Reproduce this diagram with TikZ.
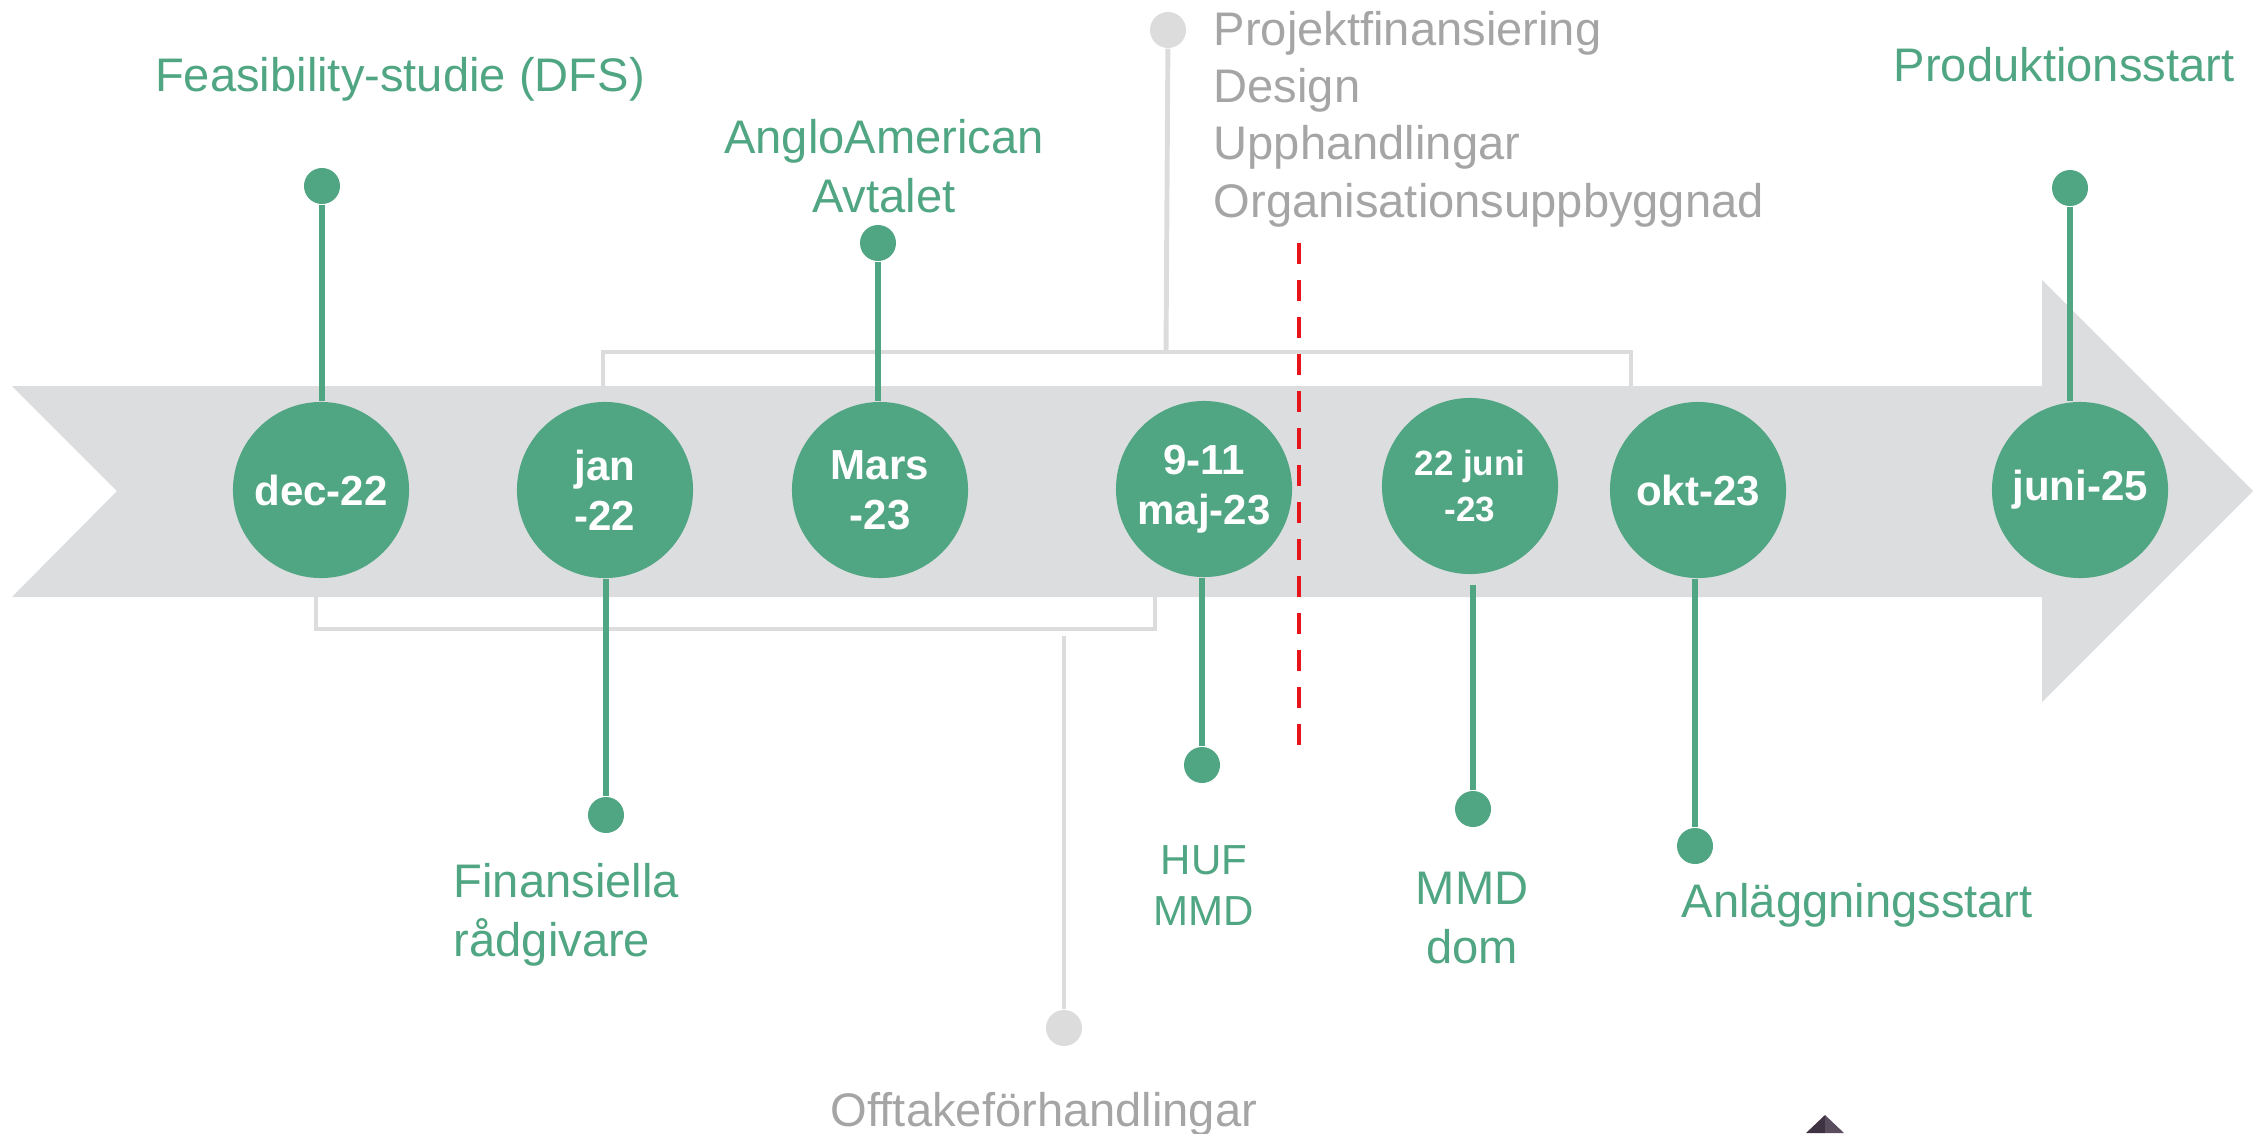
\documentclass[tikz,border=0pt]{standalone}
\usepackage{fontspec}
\setmainfont{Liberation Sans}
\definecolor{mgreen}{HTML}{50A683}
\definecolor{band}{HTML}{DCDDDF}
\definecolor{lgray}{HTML}{DCDCDC}
\definecolor{tgray}{HTML}{A5A5A5}
\definecolor{dred}{HTML}{E8141C}
\tikzset{
  date/.style={circle, fill=mgreen, minimum size=1.76cm, inner sep=0pt, text=white,
    font=\bfseries\fontsize{11.95}{14.2}\selectfont, align=center},
  pin/.style={circle, fill=mgreen, minimum size=0.36cm, inner sep=0pt},
  gpin/.style={circle, fill=lgray, minimum size=0.36cm, inner sep=0pt},
  stem/.style={draw=mgreen, line width=1.7pt},
  brace/.style={draw=lgray, line width=1.4pt},
  lbl/.style={text=mgreen, font=\fontsize{13.4}{16.5}\selectfont, inner sep=0pt, align=center},
  glbl/.style={text=tgray, font=\fontsize{13.4}{16.3}\selectfont, inner sep=0pt, align=left}
}
\begin{document}
\begin{tikzpicture}[x=0.01cm, y=-0.01cm]
      \useasboundingbox (0,0) rectangle (2267,1133);
      % arrow band
      \fill[band] (12,386) -- (2042,386) -- (2042,280) -- (2253,491) -- (2042,702)
        -- (2042,597) -- (12,597) -- (117,491) -- cycle;
      % gray brackets
      \draw[brace] (603,386) -- (603,352) -- (1631,352) -- (1631,386);
      \draw[brace] (316,597) -- (316,629) -- (1155,629) -- (1155,597);
      \node[gpin] (g1) at (1168,30) {};
      \node[gpin] (g2) at (1064,1028) {};
      \coordinate (gt) at (1166,352);
      \coordinate (gb) at (1064,636);
      \draw[brace] (gt) -- (g1);
      \draw[brace] (gb) -- (g2);
      % red line
      \draw[dred, line width=1.4pt, dash pattern=on 0.21cm off 0.16cm] (1299,243) -- (1299,745);
      % dates
      \node[date] (c1) at (321,490) {dec-22};
      \node[date] (c2) at (605,490) {jan\\-22};
      \node[date] (c3) at (880,490) {Mars\\-23};
      \node[date] (c4) at (1204,489) {9-11\\maj-23};
      \node[date, font=\bfseries\fontsize{9.96}{12.8}\selectfont] (c5) at (1470,486) {22 juni\\-23};
      \node[date] (c6) at (1698,490) {okt-23};
      \node[date] (c7) at (2080,490) {juni-25};
      % pins
      \node[pin] (p1) at (322,186) {};
      \node[pin] (p2) at (606,815) {};
      \node[pin] (p3) at (878,243) {};
      \node[pin] (p4) at (1202,765) {};
      \node[pin] (p5) at (1473,809) {};
      \node[pin] (p6) at (1695,846) {};
      \node[pin] (p7) at (2070,188) {};
      \coordinate (s5) at (1473,585);
      \draw[stem] (p1) -- (p1 |- c1.north);
      \draw[stem] (p2) -- (p2 |- c2.south);
      \draw[stem] (p3) -- (p3 |- c3.north);
      \draw[stem] (p4) -- (p4 |- c4.south);
      \draw[stem] (s5) -- (p5);
      \draw[stem] (p6) -- (p6 |- c6.south);
      \draw[stem] (p7) -- (p7 |- c7.north);
      % labels (base = last line)
      \node[lbl, anchor=base] (l1) at (400,91) {Feasibility-studie (DFS)};
      \node[lbl, anchor=base] (l3) at (884,212) {AngloAmerican\\Avtalet};
      \node[lbl, anchor=base] (l7) at (2064,81) {Produktionsstart};
      \node[lbl, align=left, anchor=base west] (l2) at (453,956) {Finansiella\\rådgivare};
      \node[lbl, font=\fontsize{11.95}{14.5}\selectfont, anchor=base] (l4) at (1204,925) {HUF\\MMD};
      \node[lbl, anchor=base] (l5) at (1472,963) {MMD\\dom};
      \node[lbl, anchor=base west] (l6) at (1681,917) {Anläggningsstart};
      \node[glbl, anchor=base west] (t1) at (1213,217) {Projektfinansiering\\Design\\Upphandlingar\\Organisationsuppbyggnad};
      \node[glbl, anchor=base] (t2) at (1044,1126) {Offtakeförhandlingar};
      % corner mark
      \fill[fill={rgb,255:red,62;green,51;blue,66}] (1825,1115) -- (1806,1133) -- (1825,1133) -- cycle;
      \fill[fill={rgb,255:red,90;green,77;blue,94}] (1825,1115) -- (1844,1133) -- (1825,1133) -- cycle;
    \end{tikzpicture}
\end{document}
